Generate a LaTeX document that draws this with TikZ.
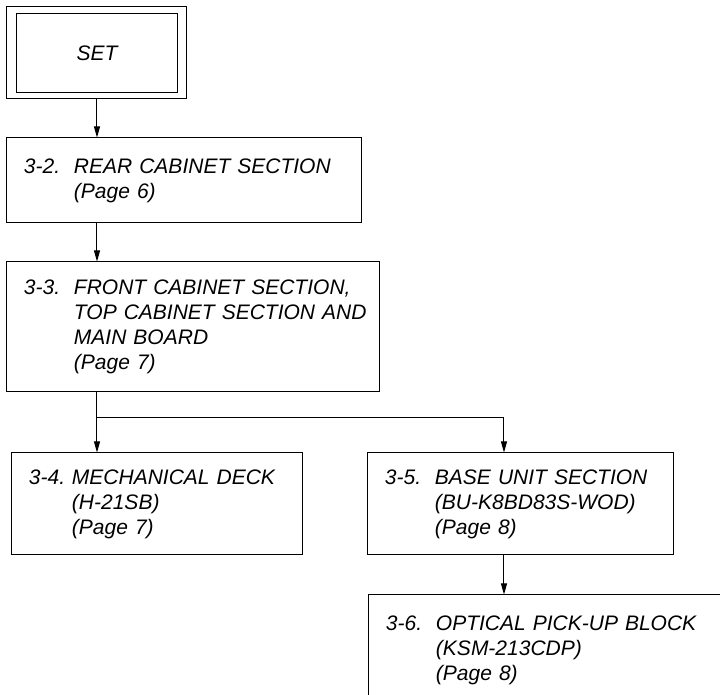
\documentclass[tikz,border=0pt]{standalone}
\usepackage{fontspec}
\setmainfont{Liberation Sans}
\usetikzlibrary{arrows.meta}

% section number and hanging indent inside the boxes
\newcommand{\secno}[2][25pt]{\hspace*{4.5pt}\makebox[#1][l]{#2}}
\newcommand{\secind}[1][25pt]{\hspace*{\dimexpr#1+4.5pt\relax}}

\begin{document}
\begin{tikzpicture}[x=0.5pt,y=-0.5pt,>={Triangle[length=5.5pt,width=3pt]},line width=0.5pt,
  boxfont/.style={font=\itshape\fontsize{10.5}{12.5}\selectfont},
  secbox/.style={draw,boxfont,text width=#1,align=left,inner xsep=4pt}]
\useasboundingbox (0,0) rectangle (720,695);
\clip (0,0) rectangle (720,695);

\node (set) [draw,boxfont,minimum width=90pt,minimum height=46pt] at (97,53) {SET};
\draw ([shift={(10,7)}]set.north west) rectangle ([shift={(-10,-7)}]set.south east);

\node (rear) [secbox=169.5pt,minimum height=42.5pt] at (184.5,180.5)
  {\secno{3-2.}REAR CABINET SECTION\\\secind(Page 6)\\[-3.5pt]};
\node (front) [secbox=178.5pt,minimum height=65pt] at (193.5,327)
  {\secno{3-3.}FRONT CABINET SECTION,\\\secind TOP CABINET SECTION AND\\\secind MAIN BOARD\\\secind(Page 7)};
\node (mech) [secbox=137.5pt,minimum height=51pt] at (157.5,504)
  {\secno[21.5pt]{3-4.}MECHANICAL DECK\\\secind[21.5pt](H-21SB)\\\secind[21.5pt](Page 7)};
\node (base) [secbox=145pt,minimum height=51pt] at (521,504)
  {\secno{3-5.}BASE UNIT SECTION\\\secind(BU-K8BD83S-WOD)\\\secind(Page 8)};
\node (opt) [secbox=187.5pt,minimum height=55pt] at (564.5,650)
  {\secno{3-6.}OPTICAL PICK-UP BLOCK\\\secind(KSM-213CDP)\\\secind(Page 8)};

\coordinate (split) at (97,418);
\coordinate (tap) at (504,418);

\draw[->] (set.south) -- (set.south |- rear.north);
\draw[->] (rear.south -| set.south) -- (front.north -| set.south);
\draw (front.south -| split) -- (split) -- (tap);
\draw[->] (split) -- (split |- mech.north);
\draw[->] (tap) -- (tap |- base.north);
\draw[->] (base.south -| tap) -- (opt.north -| tap);
\end{tikzpicture}
\end{document}
